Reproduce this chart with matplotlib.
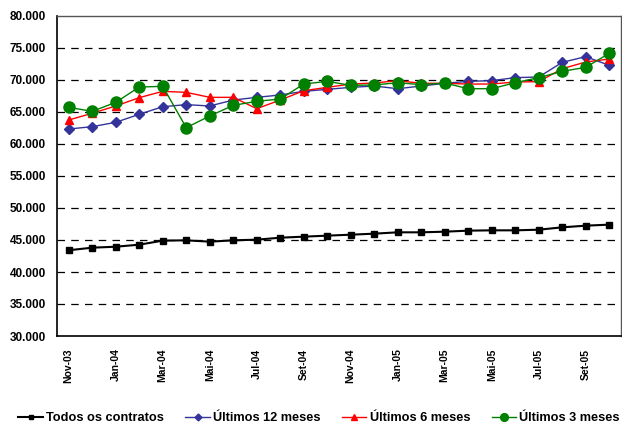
import numpy as np
import matplotlib
matplotlib.use('Agg')
import matplotlib.pyplot as plt
from matplotlib.ticker import FuncFormatter

meses = ['Nov-03', 'Dez-03', 'Jan-04', 'Fev-04', 'Mar-04', 'Abr-04', 'Mai-04', 'Jun-04',
         'Jul-04', 'Ago-04', 'Set-04', 'Out-04', 'Nov-04', 'Dez-04', 'Jan-05', 'Fev-05',
         'Mar-05', 'Abr-05', 'Mai-05', 'Jun-05', 'Jul-05', 'Ago-05', 'Set-05', 'Out-05']

todos = [43400, 43800, 43950, 44270, 44900, 44950, 44740, 44950, 45050, 45360, 45520, 45680,
         45830, 45990, 46200, 46200, 46300, 46460, 46510, 46510, 46610, 46980, 47240, 47400]
ult12 = [62340, 62710, 63390, 64640, 65830, 66150, 65940, 66870, 67290, 67660, 68230, 68540,
         68850, 69060, 68640, 69060, 69480, 69790, 69900, 70370, 70470, 72760, 73650, 72290]
ult6 = [63750, 64800, 65940, 67240, 68230, 68070, 67290, 67290, 65520, 66870, 68330, 68850,
        69370, 69530, 69900, 69480, 69480, 69370, 69370, 69690, 69740, 71770, 72810, 73280]
ult3 = [65730, 65100, 66510, 68900, 69010, 62550, 64380, 66040, 66670, 67030, 69370, 69790,
        69170, 69220, 69580, 69270, 69530, 68640, 68640, 69580, 70370, 71350, 71980, 74170]

plt.rcParams['font.family'] = ['Liberation Sans', 'DejaVu Sans']
plt.rcParams['font.weight'] = 'bold'

fig = plt.figure(figsize=(6.22, 4.23), dpi=100)
ax = fig.add_axes([57 / 622, 1 - 336 / 423, 564 / 622, 320 / 423])

x = np.arange(len(meses))
ax.plot(x, todos, color='black', marker='s', markersize=5, lw=1.5, label='Todos os contratos')
ax.plot(x, ult12, color='#333399', marker='D', markersize=5, lw=1, label='Últimos 12 meses')
ax.plot(x, ult6, color='#ff0000', marker='^', markersize=6, lw=1, label='Últimos 6 meses')
ax.plot(x, ult3, color='#008000', marker='o', markersize=8, lw=1, label='Últimos 3 meses')

ax.set_xlim(-0.5, len(meses) - 0.5)
ax.set_ylim(30000, 80000)
ax.set_yticks(np.arange(30000, 80001, 5000))
ax.yaxis.set_major_formatter(FuncFormatter(lambda v, p: f'{int(v):,}'.replace(',', '.')))
ax.set_xticks(x[::2])
ax.set_xticklabels(meses[::2], rotation=90, fontsize=7.5, fontweight='bold')
for t in ax.get_yticklabels():
    t.set_fontsize(8.5)
    t.set_fontweight('bold')
ax.tick_params(axis='y', length=0, pad=8)
ax.tick_params(axis='x', length=0, pad=9)

for v in np.arange(35000, 80000, 5000):
    ax.axhline(v, color='black', lw=0.9, ls=(0, (6, 5)), zorder=0)

for s in ['left', 'bottom']:
    ax.spines[s].set_linewidth(1.2)
for s in ['top', 'right']:
    ax.spines[s].set_color('#555555')
    ax.spines[s].set_linewidth(1)

fig.legend(loc='lower center', bbox_to_anchor=(0.513, -0.03), ncol=4, frameon=False,
           prop={'size': 9.2, 'weight': 'bold'}, handlelength=1.9, handletextpad=0.25,
           columnspacing=1.7, markerscale=0.7)

fig.savefig('out.png', dpi=100)
